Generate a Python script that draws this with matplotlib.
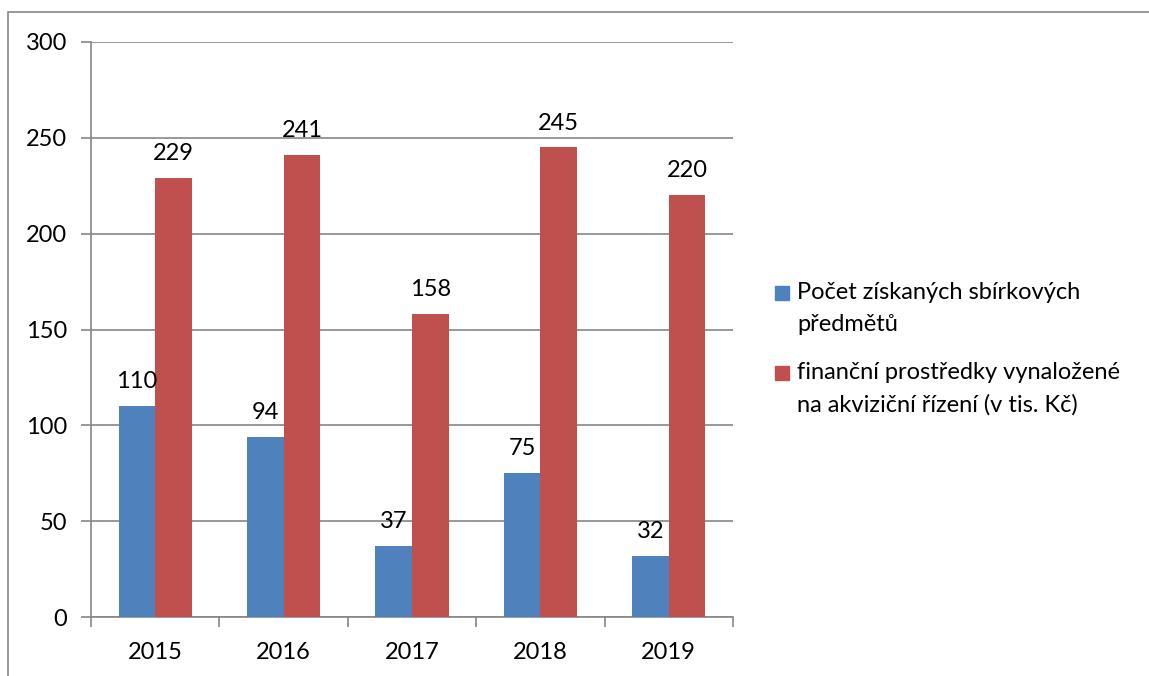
import matplotlib
matplotlib.use("Agg")
import matplotlib.pyplot as plt
from matplotlib.patches import Rectangle
import numpy as np

years = ["2015", "2016", "2017", "2018", "2019"]
items = [110, 94, 37, 75, 32]
money = [229, 241, 158, 245, 220]
series_names = ["Počet získaných sbírkových\npředmětů",
                "finanční prostředky vynaložené\nna akviziční řízení (v tis. Kč)"]
colors = ["#4F81BD", "#C0504D"]

plt.rcParams['font.family'] = ['Lato', 'DejaVu Sans']

W, H = 1149, 676
fig = plt.figure(figsize=(W/100, H/100), dpi=100)
fig.patches.append(Rectangle((8/W, -0.1), 1.2, 1.1 - 12/H, transform=fig.transFigure,
                             fill=False, edgecolor="#868686", linewidth=1.2))

ax = fig.add_axes([91/W, 1-617/H, (733-91)/W, (617-42)/H])
x = np.arange(len(years))
w = 1/3.5
b1 = ax.bar(x - w/2, items, w, color=colors[0], label=series_names[0], zorder=3)
b2 = ax.bar(x + w/2, money, w, color=colors[1], label=series_names[1], zorder=3)
for bars, vals in ((b1, items), (b2, money)):
    for r, v in zip(bars, vals):
        ax.annotate(str(v), (r.get_x() + r.get_width()/2, v), xytext=(0, 10),
                    textcoords="offset points", ha="center", va="bottom", fontsize=17)

ax.set_xlim(-0.5, len(years) - 0.5)
ax.set_ylim(0, 300)
ax.set_yticks(range(0, 301, 50))
ax.yaxis.grid(True, color="#868686", linewidth=1.2, zorder=0)
ax.set_axisbelow(True)
ax.set_xticks(x)
ax.set_xticklabels(years, fontsize=17)
ax.set_xticks(np.arange(-0.5, len(years)), minor=True)
ax.tick_params(axis="x", which="major", length=0, pad=18)
ax.tick_params(axis="x", which="minor", length=7, color="#868686", width=1.2)
ax.tick_params(axis="y", length=7, color="#868686", width=1.2, labelsize=17, pad=10)
for s in ("top", "right"):
    ax.spines[s].set_visible(False)
for s in ("left", "bottom"):
    ax.spines[s].set_color("#868686")
    ax.spines[s].set_linewidth(1.2)

# legend: square aligned with first text line, as in the reference
leg_tops = [293, 373]
for (cy, c, name) in zip(leg_tops, colors, series_names):
    fig.patches.append(Rectangle((775/W, 1 - (cy + 7)/H), 14/W, 14/H,
                                 transform=fig.transFigure, color=c))
    fig.text(797/W, 1 - (cy - 11)/H, name, fontsize=17, va="top", ha="left",
             linespacing=1.62)

fig.savefig("out.png", dpi=100)
